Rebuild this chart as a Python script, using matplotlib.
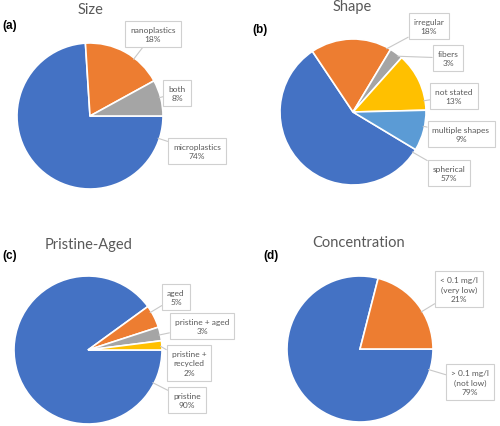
import numpy as np
import matplotlib.pyplot as plt

# Данные для четырех круговых диаграмм
size_labels = ["microplastics", "nanoplastics", "both"]
size_values = [74, 18, 8]

shape_labels = ["spherical", "irregular", "fibers", "not stated", "multiple shapes"]
shape_values = [57, 18, 3, 13, 9]

aged_labels = ["pristine", "aged", "pristine + aged", "pristine +\nrecycled"]
aged_values = [90, 5, 3, 2]

conc_labels = ["> 0.1 mg/l\n(not low)", "< 0.1 mg/l\n(very low)"]
conc_values = [79, 21]

blue = "#4472C4"
orange = "#ED7D31"
gray = "#A5A5A5"
yellow = "#FFC000"
lblue = "#5B9BD5"

W, H = 500, 427

fig = plt.figure(figsize=(5, 4.27), dpi=100)
ax = fig.add_axes([0, 0, 1, 1])


def anchor(w, bx, by):
    # точка на дуге сектора, ближайшая к направлению на подпись
    cx, cy = w.center
    t = np.degrees(np.arctan2(by - cy, bx - cx))
    t1, t2 = w.theta1, w.theta2
    t = t1 + (t - t1) % 360
    m = min(3, (t2 - t1) / 2)
    if t > t2:
        # за пределами сектора - ближайшая граница
        if t - t2 < t1 + 360 - t:
            t = t2 - m
        else:
            t = t1 + m
    t = min(max(t, t1 + m), t2 - m)
    a = np.deg2rad(t)
    return cx + w.r * 0.98 * np.cos(a), cy + w.r * 0.98 * np.sin(a)


def draw_pie(values, labels, colors, cx, cy, r, start, title, tpos, panel, ppos, boxes):
    # координаты в пикселях, ось y снизу вверх
    wedges, _ = ax.pie(values, colors=colors, center=(cx, H - cy), radius=r,
                       startangle=start, counterclock=False,
                       wedgeprops=dict(edgecolor="white", linewidth=1.2))
    ax.text(tpos[0], H - tpos[1], title, ha="center", va="center",
            fontsize=10.5, color="#595959", family="Lato")
    ax.text(ppos[0], H - ppos[1], panel, ha="left", va="center",
            fontsize=8.5, fontweight="bold", family="Liberation Sans")
    for w, lab, val, b in zip(wedges, labels, values, boxes):
        px, py = anchor(w, b[0], H - b[1])
        ax.annotate(lab + "\n" + str(val) + "%", xy=(px, py), xytext=(b[0], H - b[1]),
                    ha="center", va="center", fontsize=6, color="#595959",
                    family="Lato", linespacing=1.4,
                    bbox=dict(boxstyle="square,pad=0.6", fc="white", ec="#D0D0D0", lw=0.8),
                    arrowprops=dict(arrowstyle="-", color="#C8C8C8", lw=0.8,
                                    shrinkA=0, shrinkB=0))


draw_pie(size_values, size_labels, [blue, orange, gray], 90, 117, 73, 0,
         "Size", (90, 10), "(a)", (2, 26),
         [(197, 152), (153, 35), (177, 94)])

draw_pie(shape_values, shape_labels, [blue, orange, gray, yellow, lblue], 353, 113, 73, -31,
         "Shape", (352, 7), "(b)", (252, 30),
         [(449, 174), (429, 27), (448, 59), (454, 97), (461, 135)])

draw_pie(aged_values, aged_labels, [blue, orange, gray, yellow], 88, 351, 74, 0,
         "Pristine-Aged", (89, 245), "(c)", (2, 256),
         [(187, 401), (176, 298), (202, 327), (189, 364)])

draw_pie(conc_values, conc_labels, [blue, orange], 360, 350, 73, 0,
         "Concentration", (359, 243), "(d)", (263, 256),
         [(470, 383), (459, 290)])

ax.set_xlim(0, W)
ax.set_ylim(0, H)
ax.set_aspect("equal")
ax.axis("off")

fig.savefig("out.png", dpi=100)
